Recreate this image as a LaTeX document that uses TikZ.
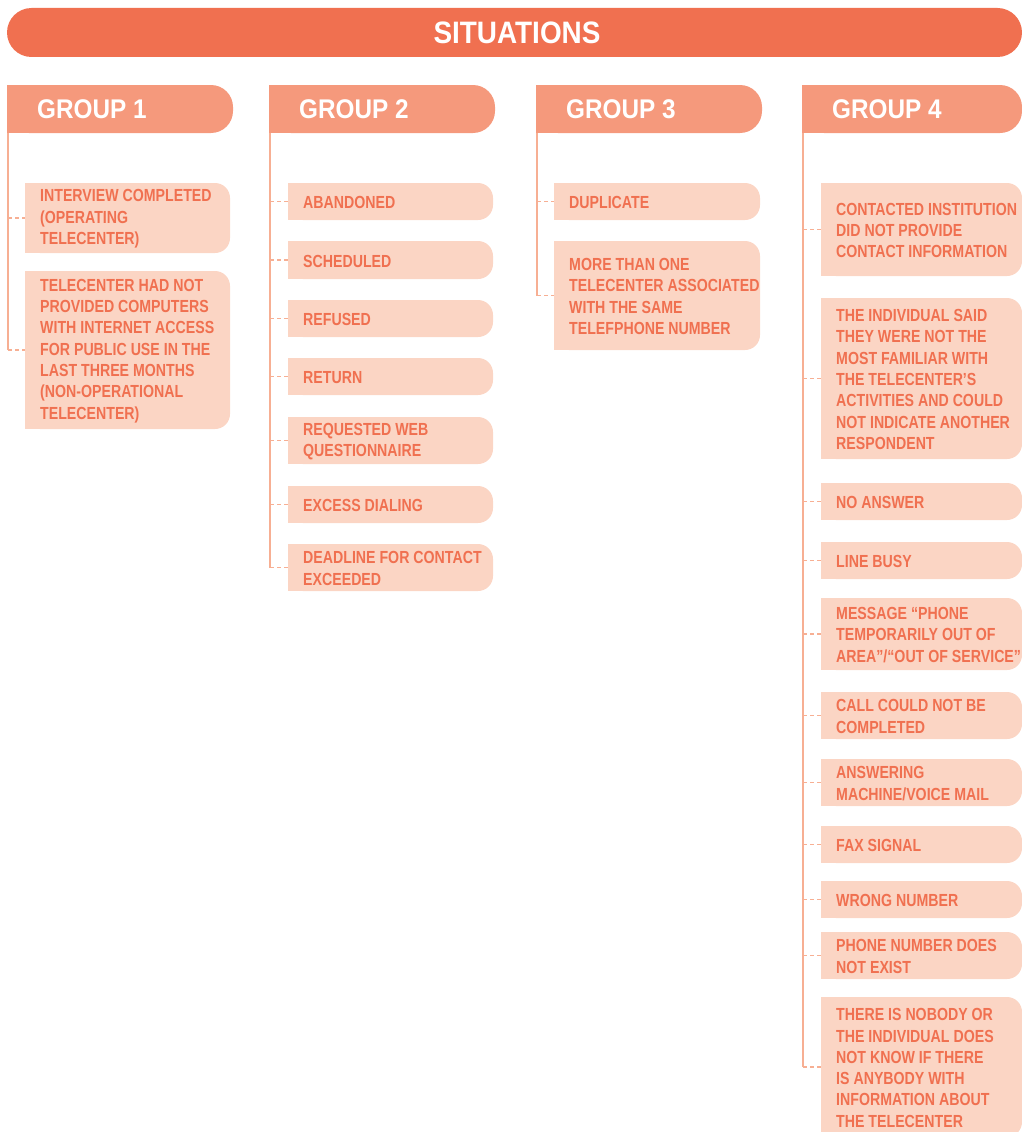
\documentclass[tikz,border=0pt]{standalone}
\usepackage{fontspec}
\setmainfont{Liberation Sans}[FakeStretch=0.81]
\newfontfamily\hdfont{Liberation Sans}[FakeStretch=0.9]
\usetikzlibrary{backgrounds}
\definecolor{barc}{RGB}{240,112,80}
\definecolor{headc}{RGB}{245,153,124}
\definecolor{boxc}{RGB}{251,213,196}
\definecolor{txtc}{RGB}{240,112,80}
\definecolor{linec}{RGB}{247,175,147}
\tikzset{
  boxn/.style={inner sep=0pt, outer sep=0pt},
  itm/.style={inner sep=0pt, text=txtc, font=\fontsize{17.5}{21.3}\selectfont\bfseries, align=left},
  ghd/.style={inner sep=0pt, text=white, font=\hdfont\fontsize{27}{30}\selectfont\bfseries},
  stub/.style={draw=linec, line width=1.2pt, dash pattern=on 4pt off 3pt},
  vline/.style={draw=linec, line width=2.5pt},
}
% box: name, x, y, w, h, text
\newcommand\mkbox[6]{%
  \node[boxn, minimum width=#4, minimum height=#5, anchor=north west] (#1) at (#2,#3) {};
  \node[itm, anchor=west] (#1t) at ([xshift=15,yshift=-1]#1.west) {#6};
  \begin{scope}[on background layer]
    \fill[boxc, rounded corners=15] (#1.north west) rectangle (#1.south east);
    \fill[boxc] (#1.north west) rectangle ([xshift=20]#1.south west);
  \end{scope}}
% group header: name, x, w, text
\newcommand\mkhead[4]{%
  \node[boxn, minimum width=#3, minimum height=48, anchor=north west] (#1) at (#2,85) {};
  \node[ghd, anchor=west] (#1t) at ([xshift=30]#1.west) {#4};
  \begin{scope}[on background layer]
    \fill[headc, rounded corners=22] (#1.north west) rectangle (#1.south east);
    \fill[headc] (#1.north west) rectangle ([xshift=30]#1.south west);
  \end{scope}
  \coordinate (#1top) at ([xshift=1.2]#1.south west);}
\begin{document}
\begin{tikzpicture}[x=1pt,y=-1pt]
\useasboundingbox (0,0) rectangle (1022,1132);

% title bar
\node[boxn, minimum width=1015, minimum height=49, anchor=north west] (bar) at (7,8) {};
\begin{scope}[on background layer]
  \fill[barc, rounded corners=24.5] (bar.north west) rectangle (bar.south east);
\end{scope}
\node[inner sep=0pt, text=white, font=\hdfont\fontsize{31}{34}\selectfont\bfseries] (bart) at (517,33) {SITUATIONS};

% ---------- group 1
\mkhead{ga}{7}{226}{GROUP 1}
\mkbox{a1}{25}{183}{205}{70}{INTERVIEW COMPLETED\\(OPERATING\\TELECENTER)}
\mkbox{a2}{25}{271}{205}{158}{TELECENTER HAD NOT\\PROVIDED COMPUTERS\\WITH INTERNET ACCESS\\FOR PUBLIC USE IN THE\\LAST THREE MONTHS\\(NON-OPERATIONAL\\TELECENTER)}
\draw[vline] (gatop) -- (gatop |- a2.west);
\foreach \n in {a1,a2} \draw[stub] (gatop |- \n.west) -- (\n.west);

% ---------- group 2
\mkhead{gb}{269}{226}{GROUP 2}
\mkbox{b1}{288}{183}{205}{37}{ABANDONED}
\mkbox{b2}{288}{241}{205}{38}{SCHEDULED}
\mkbox{b3}{288}{300}{205}{37}{REFUSED}
\mkbox{b4}{288}{358}{205}{37}{RETURN}
\mkbox{b5}{288}{417}{205}{47}{REQUESTED WEB\\QUESTIONNAIRE}
\mkbox{b6}{288}{486}{205}{37}{EXCESS DIALING}
\mkbox{b7}{288}{544}{205}{47}{DEADLINE FOR CONTACT\\EXCEEDED}
\draw[vline] (gbtop) -- (gbtop |- b7.west);
\foreach \n in {b1,b2,b3,b4,b5,b6,b7} \draw[stub] (gbtop |- \n.west) -- (\n.west);

% ---------- group 3
\mkhead{gc}{536}{226}{GROUP 3}
\mkbox{c1}{554}{183}{206}{37}{DUPLICATE}
\mkbox{c2}{554}{241}{206}{109}{MORE THAN ONE\\TELECENTER ASSOCIATED\\WITH THE SAME\\TELEFPHONE NUMBER}
\draw[vline] (gctop) -- (gctop |- c2.west);
\foreach \n in {c1,c2} \draw[stub] (gctop |- \n.west) -- (\n.west);

% ---------- group 4
\mkhead{gd}{802}{220}{GROUP 4}
\mkbox{d1}{821}{183}{201}{93}{CONTACTED INSTITUTION\\DID NOT PROVIDE\\CONTACT INFORMATION}
\mkbox{d2}{821}{298}{201}{161}{THE INDIVIDUAL SAID\\THEY WERE NOT THE\\MOST FAMILIAR WITH\\THE TELECENTER’S\\ACTIVITIES AND COULD\\NOT INDICATE ANOTHER\\RESPONDENT}
\mkbox{d3}{821}{483}{201}{37}{NO ANSWER}
\mkbox{d4}{821}{542}{201}{37}{LINE BUSY}
\mkbox{d5}{821}{598}{201}{72}{MESSAGE “PHONE\\TEMPORARILY OUT OF\\AREA”/“OUT OF SERVICE”}
\mkbox{d6}{821}{692}{201}{47}{CALL COULD NOT BE\\COMPLETED}
\mkbox{d7}{821}{759}{201}{47}{ANSWERING\\MACHINE/VOICE MAIL}
\mkbox{d8}{821}{826}{201}{37}{FAX SIGNAL}
\mkbox{d9}{821}{881}{201}{37}{WRONG NUMBER}
\mkbox{d10}{821}{932}{201}{47}{PHONE NUMBER DOES\\NOT EXIST}
\mkbox{d11}{821}{997}{201}{140}{THERE IS NOBODY OR\\THE INDIVIDUAL DOES\\NOT KNOW IF THERE\\IS ANYBODY WITH\\INFORMATION ABOUT\\THE TELECENTER}
\draw[vline] (gdtop) -- (gdtop |- d11.west);
\foreach \n in {d1,d2,d3,d4,d5,d6,d7,d8,d9,d10,d11} \draw[stub] (gdtop |- \n.west) -- (\n.west);
\end{tikzpicture}
\end{document}
